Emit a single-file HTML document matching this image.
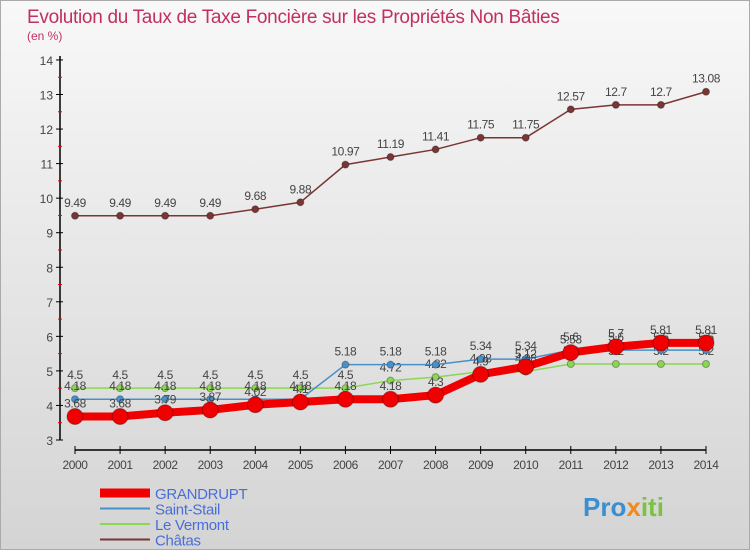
<!DOCTYPE html>
<html><head><meta charset="utf-8"><style>
body{margin:0;width:750px;height:550px;overflow:hidden;font-family:"Liberation Sans",sans-serif}
svg{display:block}
</style></head><body>
<svg id="c" width="750" height="550">
<defs><linearGradient id="bg" x1="0" y1="0" x2="0" y2="1"><stop offset="0" stop-color="#f8f8f8"/><stop offset="1" stop-color="#d4d4d4"/></linearGradient></defs>
<rect x="0.5" y="0.5" width="749" height="549" fill="url(#bg)" stroke="#aaa"/>
<text x="27" y="23" font-size="19" fill="#c2305d" letter-spacing="-0.3">Evolution du Taux de Taxe Foncière sur les Propriétés Non Bâties</text>
<text x="27" y="40" font-size="12" fill="#c2305d">(en %)</text>
<g id="axes"></g><g id="series"></g><g id="legend"></g>
<text x="583" y="516" font-size="26" font-weight="bold"><tspan fill="#3a8fd0">Pro</tspan><tspan fill="#f08a1c">x</tspan><tspan fill="#7cc242">iti</tspan></text>
</svg>
<script>
const years=[2000,2001,2002,2003,2004,2005,2006,2007,2008,2009,2010,2011,2012,2013,2014];
const grandrupt=[3.68,3.68,3.79,3.87,4.02,4.1,4.18,4.18,4.3,4.9,5.12,5.53,5.7,5.81,5.81];
const saintStail=[4.18,4.18,4.18,4.18,4.18,4.18,5.18,5.18,5.18,5.34,5.34,5.6,5.6,5.6,5.6];
const leVermont=[4.5,4.5,4.5,4.5,4.5,4.5,4.5,4.72,4.82,4.98,4.98,5.2,5.2,5.2,5.2];
const chatas=[9.49,9.49,9.49,9.49,9.68,9.88,10.97,11.19,11.41,11.75,11.75,12.57,12.7,12.7,13.08];
const yTicks=[3,4,5,6,7,8,9,10,11,12,13,14];
const NS="http://www.w3.org/2000/svg";
const X=i=>75+i*(706-75)/(years.length-1);
const Y=v=>440-(v-3)*34.55;
function mk(t,a,p){const e=document.createElementNS(NS,t);for(const k in a)e.setAttribute(k,a[k]);p.appendChild(e);return e;}
const ax=document.getElementById('axes');
let l=mk('line',{x1:60,y1:56,x2:60,y2:440,stroke:'#000','stroke-width':1.5},ax);


l=mk('line',{x1:75,y1:450,x2:706,y2:450,stroke:'#000','stroke-width':1.5},ax);


yTicks.forEach(v=>{
 mk('line',{x1:56,y1:Y(v),x2:63,y2:Y(v),stroke:'#000'},ax);
 if(v<14)mk('line',{x1:58,y1:Y(v+0.5),x2:62,y2:Y(v+0.5),stroke:'#e00'},ax);
 const t=mk('text',{x:53,y:Y(v)+5,'font-size':12,fill:'#444','text-anchor':'end'},ax);t.textContent=v;
 
 
});
years.forEach((y,i)=>{
 mk('line',{x1:X(i),y1:446,x2:X(i),y2:454,stroke:'#000'},ax);
 const t=mk('text',{x:X(i),y:469,'font-size':12,fill:'#444','text-anchor':'middle','letter-spacing':-0.4},ax);t.textContent=y;
 
 
});
const sg=document.getElementById('series');
const defs=[
 {d:chatas,c:'#7a3535',w:1.5,r:3.5,n:'chatas',label:'Châtas'},
 {d:leVermont,c:'#8cd654',w:1.5,r:3.5,n:'le-vermont',label:'Le Vermont'},
 {d:saintStail,c:'#4a90c8',w:1.5,r:3.5,n:'saint-stail',label:'Saint-Stail'},
 {d:grandrupt,c:'#f00000',w:8,r:8,n:'grandrupt',label:'GRANDRUPT'}];
defs.forEach(s=>{
 const g=mk('g',{},sg);
 
 
 const pl=mk('polyline',{points:s.d.map((v,i)=>X(i)+','+Y(v)).join(' '),fill:'none',stroke:s.c,'stroke-width':s.w},g);
 
 
 s.d.forEach((v,i)=>{
  const c=mk('circle',{cx:X(i),cy:Y(v),r:s.r,fill:s.c,stroke:'rgba(0,0,0,0.3)'},g);
  
  
  const t=mk('text',{x:X(i),y:Y(v)-9,'font-size':12,fill:'#444','text-anchor':'middle','letter-spacing':-0.4},g);t.textContent=v;
  
  
 });
});
const lg=document.getElementById('legend');
[defs[3],defs[2],defs[1],defs[0]].forEach((s,k)=>{
 const y=493+k*15.5;
 const ln=mk('line',{x1:100,y1:y,x2:150,y2:y,stroke:s.c,'stroke-width':s.n=='grandrupt'?9:2},lg);
 
 
 const t=mk('text',{x:155,y:y+6,'font-size':15,fill:'#4a6ed8','letter-spacing':-0.3},lg);t.textContent=s.label;
 
 
});
</script>
</body></html>
